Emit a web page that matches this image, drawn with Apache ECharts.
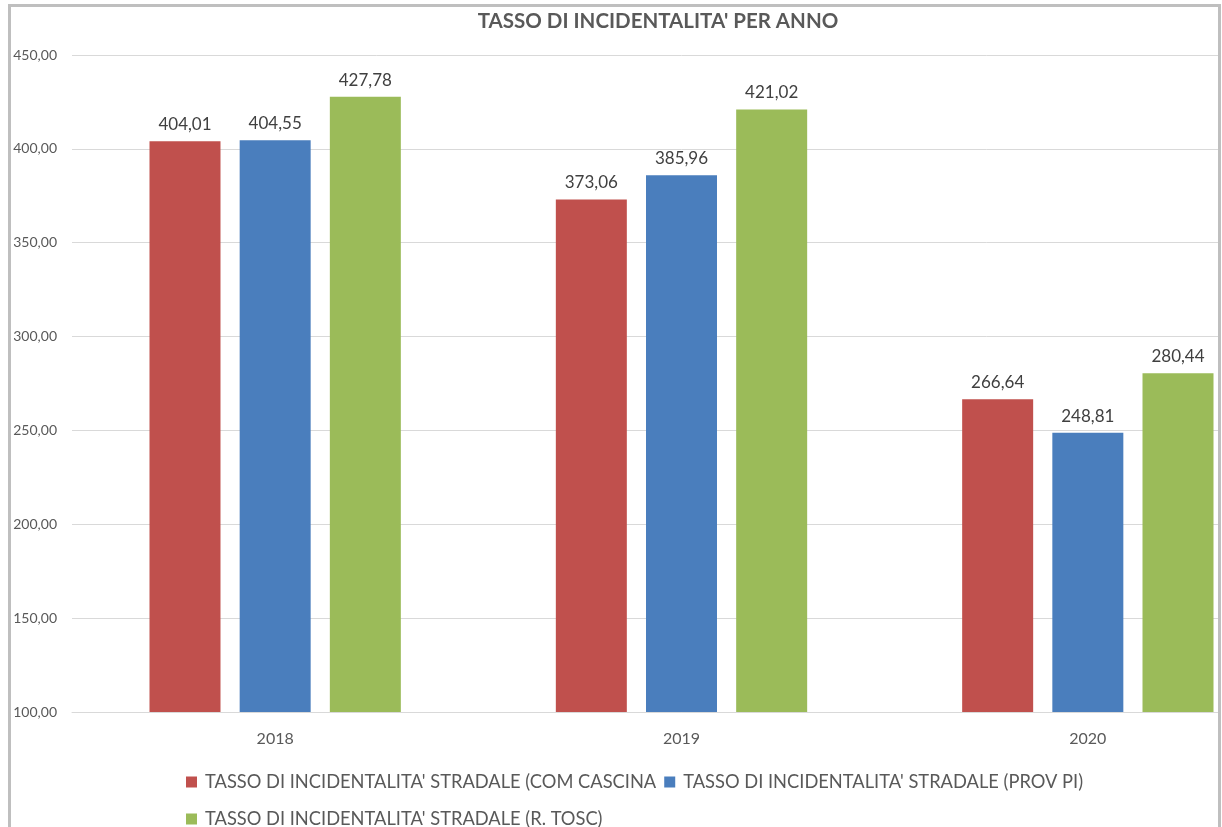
<!DOCTYPE html>
<html>
<head>
<meta charset="utf-8">
<script src="https://cdn.jsdelivr.net/npm/echarts@6/dist/echarts.min.js"></script>
<style>
html,body{margin:0;padding:0;background:#fff;overflow:hidden;}
#chart{width:1300px;height:827px;}
</style>
</head>
<body>
<div id="chart"></div>
<script>
const categories = ['2018', '2019', '2020'];
const seriesNames = [
  "TASSO DI INCIDENTALITA' STRADALE (COM CASCINA",
  "TASSO DI INCIDENTALITA' STRADALE (PROV PI)",
  "TASSO DI INCIDENTALITA' STRADALE (R. TOSC)"
];
const cascina = [404.01, 373.06, 266.64];
const provPi = [404.55, 385.96, 248.81];
const rTosc = [427.78, 421.02, 280.44];
const colors = ['#C0504D', '#4A7EBD', '#9BBB59'];

const fmt = v => Number(v).toFixed(2).replace('.', ',');
const FONT = 'Lato';

function bar(name, data, color) {
  return {
    name: name, type: 'bar', data: data,
    barWidth: 71, barGap: '27%',
    itemStyle: { color: color },
    label: {
      show: true, position: 'top', distance: 8,
      formatter: p => fmt(p.value),
      fontFamily: FONT, fontSize: 17, color: '#404040'
    }
  };
}

const legendText = { fontFamily: FONT, fontSize: 18.3, color: '#595959', padding: [0, 0, 0, 3] };

const chart = echarts.init(document.getElementById('chart'), null, { renderer: 'canvas' });
chart.setOption({
  animation: false,
  backgroundColor: '#fff',
  title: {
    text: "TASSO DI INCIDENTALITA' PER ANNO",
    left: 653, top: 6, textAlign: 'center',
    textStyle: { fontFamily: FONT, fontSize: 20.5, fontWeight: 'bold', color: '#595959' }
  },
  legend: [
    {
      data: [seriesNames[0], seriesNames[1]],
      left: 181, top: 768, itemWidth: 11, itemHeight: 11, itemGap: 8,
      icon: 'rect', textStyle: legendText
    },
    {
      data: [seriesNames[2]],
      left: 181, top: 805, itemWidth: 11, itemHeight: 11,
      icon: 'rect', textStyle: legendText
    }
  ],
  grid: { left: 72, top: 55, width: 1219, bottom: 115, containLabel: false, outerBoundsMode: 'none' },
  xAxis: {
    type: 'category', data: categories,
    axisLine: { show: true, lineStyle: { color: '#D9D9D9', width: 1 } },
    axisTick: { show: false },
    axisLabel: { fontFamily: FONT, fontSize: 16, color: '#595959', margin: 19 }
  },
  yAxis: {
    type: 'value', min: 100, max: 450, interval: 50,
    axisLine: { show: false }, axisTick: { show: false },
    splitLine: { lineStyle: { color: '#D9D9D9', width: 1 } },
    axisLabel: { fontFamily: FONT, fontSize: 14, color: '#595959', margin: 15, formatter: v => fmt(v) }
  },
  series: [
    bar(seriesNames[0], cascina, colors[0]),
    bar(seriesNames[1], provPi, colors[1]),
    bar(seriesNames[2], rTosc, colors[2])
  ],
  graphic: [
    { type: 'rect', z: 100, silent: true, shape: { x: 1220, y: 0, width: 80, height: 827 }, style: { fill: '#fff' } },
    { type: 'rect', z: 101, silent: true, shape: { x: 9.5, y: 5.5, width: 1210, height: 900 }, style: { fill: null, stroke: '#BFBFBF', lineWidth: 3 } }
  ]
});
</script>
</body>
</html>
